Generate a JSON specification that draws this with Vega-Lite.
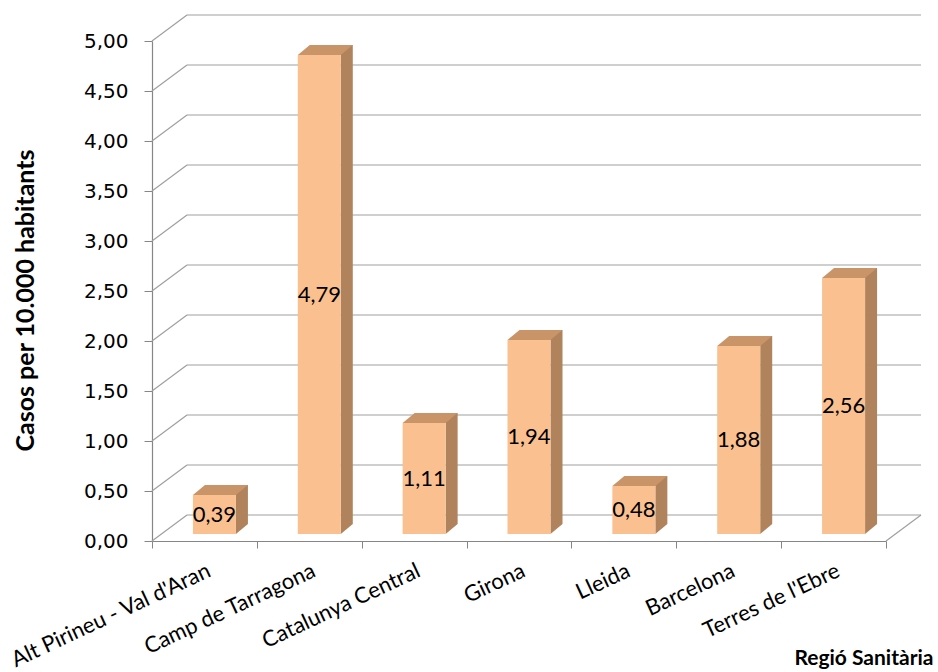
{
  "$schema": "https://vega.github.io/schema/vega-lite/v6.json",
  "width": 734,
  "height": 500,
  "autosize": {"type": "none"},
  "padding": {"left": 152, "top": 41, "right": 52, "bottom": 131},
  "background": "white",
  "config": {
    "view": {"stroke": null},
    "locale": {"number": {"decimal": ",", "thousands": ".", "grouping": [3], "currency": ["", " €"]}}
  },
  "datasets": {
    "bars": [
      {"regio": "Alt Pirineu - Val d'Aran", "casos": 0.39},
      {"regio": "Camp de Tarragona", "casos": 4.79},
      {"regio": "Catalunya Central", "casos": 1.11},
      {"regio": "Girona", "casos": 1.94},
      {"regio": "Lleida", "casos": 0.48},
      {"regio": "Barcelona", "casos": 1.88},
      {"regio": "Terres de l'Ebre", "casos": 2.56}
    ],
    "ticks": [
      {"v": 0}, {"v": 0.5}, {"v": 1}, {"v": 1.5}, {"v": 2}, {"v": 2.5},
      {"v": 3}, {"v": 3.5}, {"v": 4}, {"v": 4.5}, {"v": 5}
    ]
  },
  "resolve": {"scale": {"y": "independent"}},
  "layer": [
    {
      "data": {"name": "ticks"},
      "mark": {"type": "rule", "color": "#a0a0a0", "strokeWidth": 1.2, "xOffset": 35, "x2Offset": 35, "yOffset": -26},
      "encoding": {
        "x": {"datum": "Alt Pirineu - Val d'Aran", "bandPosition": 0, "type": "nominal", "scale": {"domain": ["Alt Pirineu - Val d'Aran", "Camp de Tarragona", "Catalunya Central", "Girona", "Lleida", "Barcelona", "Terres de l'Ebre"], "paddingInner": 0, "paddingOuter": 0}},
        "x2": {"datum": "Terres de l'Ebre", "bandPosition": 1},
        "y": {"field": "v", "type": "quantitative", "scale": {"domain": [0, 5]}, "axis": null}
      }
    },
    {
      "data": {"name": "ticks"},
      "mark": {"type": "rule", "color": "#a0a0a0", "strokeWidth": 1.2, "x2Offset": 35, "y2Offset": -26},
      "encoding": {
        "x": {"datum": "Alt Pirineu - Val d'Aran", "bandPosition": 0, "type": "nominal"},
        "x2": {"datum": "Alt Pirineu - Val d'Aran", "bandPosition": 0},
        "y": {"field": "v", "type": "quantitative", "scale": {"domain": [0, 5]}, "axis": null},
        "y2": {"field": "v"}
      }
    },
    {
      "data": {"values": [{"v": 0}]},
      "mark": {"type": "rule", "color": "#a0a0a0", "strokeWidth": 1.2, "x2Offset": 35, "y2Offset": -26},
      "encoding": {
        "x": {"datum": "Terres de l'Ebre", "bandPosition": 1, "type": "nominal"},
        "x2": {"datum": "Terres de l'Ebre", "bandPosition": 1},
        "y": {"field": "v", "type": "quantitative", "scale": {"domain": [0, 5]}, "axis": null},
        "y2": {"field": "v"}
      }
    },
    {
      "data": {"name": "bars"},
      "mark": {"type": "bar", "color": "#b0835d", "width": 12, "xOffset": 37.5, "yOffset": -17, "y2Offset": -17},
      "encoding": {
        "x": {"field": "regio", "type": "nominal", "sort": null},
        "y": {"field": "casos", "type": "quantitative", "scale": {"domain": [0, 5]}, "axis": null}
      }
    },
    {
      "data": {"name": "bars"},
      "mark": {"type": "point", "shape": "M-1,-0.8333L1,-0.8333L-1,0.8333Z", "size": 144, "filled": true, "opacity": 1, "color": "#b0835d", "strokeWidth": 0, "xOffset": 37.5, "yOffset": -12},
      "encoding": {
        "x": {"field": "regio", "type": "nominal", "sort": null},
        "y": {"datum": 0, "type": "quantitative", "scale": {"domain": [0, 5]}, "axis": null}
      }
    },
    {
      "data": {"name": "bars"},
      "mark": {"type": "point", "shape": "M-1,0.1818L0.5636,0.1818L1,-0.1818L-0.5636,-0.1818Z", "size": 3025, "filled": true, "opacity": 1, "color": "#c89468", "strokeWidth": 0, "xOffset": 16, "yOffset": -12},
      "encoding": {
        "x": {"field": "regio", "type": "nominal", "sort": null},
        "y": {"field": "casos", "type": "quantitative", "scale": {"domain": [0, 5]}, "axis": null}
      }
    },
    {
      "data": {"name": "bars"},
      "mark": {"type": "bar", "color": "#fac090", "width": 43, "xOffset": 10, "yOffset": -7, "y2Offset": -7},
      "encoding": {
        "x": {
          "field": "regio", "type": "nominal", "sort": null,
          "axis": {
            "title": "Regió Sanitària",
            "titleFont": "Lato", "titleFontSize": 21, "titleFontWeight": "bold", "titleColor": "#000000",
            "titleAnchor": "end", "titleAlign": "right", "titleX": 781, "titleY": 123, "titleBaseline": "alphabetic",
            "labelAngle": -25, "labelAlign": "right", "labelBaseline": "top", "labelPadding": 12, "labelLimit": 0,
            "labelFont": "Lato", "labelFontSize": 22, "labelColor": "#000000",
            "tickBand": "extent", "ticks": true, "tickSize": 7, "tickColor": "#868686",
            "domainColor": "#868686", "domainWidth": 1.2, "grid": false
          }
        },
        "y": {
          "field": "casos", "type": "quantitative",
          "scale": {"domain": [0, 5]},
          "axis": {
            "title": "Casos per 10.000 habitants",
            "titleFont": "Lato", "titleFontSize": 25, "titleFontWeight": "bold", "titleColor": "#000000",
            "titleX": -127, "titleY": 259, "titleAlign": "center", "titleBaseline": "middle", "titleAngle": -90,
            "values": [0, 0.5, 1, 1.5, 2, 2.5, 3, 3.5, 4, 4.5, 5],
            "format": ".2f",
            "labelFont": "DejaVu Sans", "labelFontSize": 20, "labelColor": "#000000", "labelPadding": 16,
            "tickSize": 8, "tickColor": "#868686", "domainColor": "#868686", "domainWidth": 1.2, "grid": false
          }
        }
      }
    },
    {
      "data": {"name": "bars"},
      "mark": {"type": "text", "font": "Lato", "fontSize": 22, "color": "#000000", "xOffset": 10, "yOffset": -7, "baseline": "middle", "align": "center"},
      "encoding": {
        "x": {"field": "regio", "type": "nominal", "sort": null},
        "y": {"field": "casos", "type": "quantitative", "scale": {"domain": [0, 10]}, "axis": null},
        "text": {"field": "casos", "type": "quantitative", "format": ".2f"}
      }
    }
  ]
}
